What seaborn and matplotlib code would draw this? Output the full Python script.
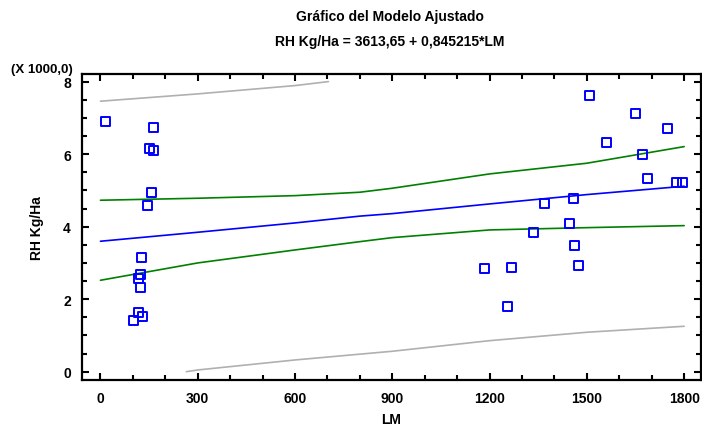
import matplotlib
matplotlib.use("Agg")
import matplotlib.pyplot as plt
from matplotlib.ticker import MultipleLocator, FuncFormatter
import seaborn as sns
import pandas as pd

# Observed data (LM, RH Kg/Ha)
lm = [16, 164, 150, 164, 156, 145, 128, 122, 117, 122, 117, 130, 101,
      1509, 1649, 1748, 1559, 1671, 1688, 1776, 1795, 1458, 1369, 1447,
      1334, 1463, 1475, 1269, 1183, 1255]
rh = [6907, 6742, 6143, 6088, 4948, 4571, 3145, 2687, 2557, 2328, 1638, 1517, 1407,
      7614, 7128, 6695, 6317, 5978, 5324, 5225, 5225, 4783, 4626, 4074,
      3845, 3476, 2935, 2880, 2833, 1793]

# Fitted line and bands
band_x = [0, 300, 600, 800, 900, 1200, 1500, 1800]
fit_y = [3597, 3845, 4102, 4290, 4359, 4626, 4884, 5114]
conf_hi = [4728, 4783, 4855, 4949, 5059, 5454, 5749, 6207]
conf_lo = [2521, 2999, 3357, 3586, 3697, 3909, 3972, 4028]
pred_hi_x = [0, 300, 600, 703]
pred_hi = [7459, 7661, 7890, 8000]
pred_lo_x = [265, 300, 600, 900, 1200, 1500, 1800]
pred_lo = [0, 47, 323, 563, 855, 1087, 1252]

x_ticks = [0, 300, 600, 900, 1200, 1500, 1800]
y_ticks = [0, 2000, 4000, 6000, 8000]

sns.set_theme(style="white")
plt.rcParams['font.family'] = ['Liberation Sans', 'DejaVu Sans']
plt.rcParams['font.weight'] = 'bold'
plt.rcParams['text.color'] = 'black'
plt.rcParams['axes.labelcolor'] = 'black'
plt.rcParams['xtick.color'] = 'black'
plt.rcParams['ytick.color'] = 'black'

fig = plt.figure(figsize=(7.02, 4.27), dpi=100)
ax = fig.add_axes([0.1168, 0.1077, 0.8818, 0.7167])

df_pts = pd.DataFrame({"LM": lm, "RH": rh})
df_band = pd.DataFrame({"x": band_x, "fit": fit_y, "hi": conf_hi, "lo": conf_lo})
df_ph = pd.DataFrame({"x": pred_hi_x, "y": pred_hi})
df_pl = pd.DataFrame({"x": pred_lo_x, "y": pred_lo})

lw = 1.2
sns.lineplot(data=df_ph, x="x", y="y", color="#b0b0b0", lw=lw, ax=ax, estimator=None, sort=False)
sns.lineplot(data=df_pl, x="x", y="y", color="#b0b0b0", lw=lw, ax=ax, estimator=None, sort=False)
sns.lineplot(data=df_band, x="x", y="hi", color="#008000", lw=lw, ax=ax, estimator=None, sort=False)
sns.lineplot(data=df_band, x="x", y="lo", color="#008000", lw=lw, ax=ax, estimator=None, sort=False)
sns.lineplot(data=df_band, x="x", y="fit", color="#0000ff", lw=lw, ax=ax, estimator=None, sort=False)
sns.scatterplot(data=df_pts, x="LM", y="RH", marker="s", s=42, facecolor="none",
                edgecolor="#0000ff", linewidth=1.4, ax=ax, zorder=5)

ax.set_xlim(-57, 1852)
ax.set_ylim(-230, 8210)
ax.set_xticks(x_ticks)
ax.set_yticks(y_ticks)
ax.xaxis.set_minor_locator(MultipleLocator(100))
ax.yaxis.set_minor_locator(MultipleLocator(500))
ax.yaxis.set_major_formatter(FuncFormatter(lambda v, p: f"{v/1000:.0f}"))
ax.tick_params(which='both', direction='in', top=True, right=True, bottom=True, left=True,
               color='black', labelcolor='black', width=1.5, labelsize=10, pad=8)
ax.tick_params(which='major', length=5)
ax.tick_params(which='minor', length=3.5)
for lab in ax.get_xticklabels() + ax.get_yticklabels():
    lab.set_fontweight('bold')
for s in ax.spines.values():
    s.set_color('black')
    s.set_linewidth(1.6)
    s.set_visible(True)

ax.set_xlabel("LM", fontsize=10, fontweight='bold', labelpad=5, color='black')
ax.set_ylabel("RH Kg/Ha", fontsize=10, fontweight='bold', labelpad=14, color='black')
fig.text(0.060, 0.836, "(X 1000,0)", fontsize=9.5, fontweight='bold', ha='center', va='center', color='black')
fig.text(0.555, 0.960, "Gráfico del Modelo Ajustado", fontsize=10, fontweight='bold', ha='center', va='center', color='black')
fig.text(0.555, 0.902, "RH Kg/Ha = 3613,65 + 0,845215*LM", fontsize=10, fontweight='bold', ha='center', va='center', color='black')

fig.savefig("out.png", dpi=100, facecolor='white')
